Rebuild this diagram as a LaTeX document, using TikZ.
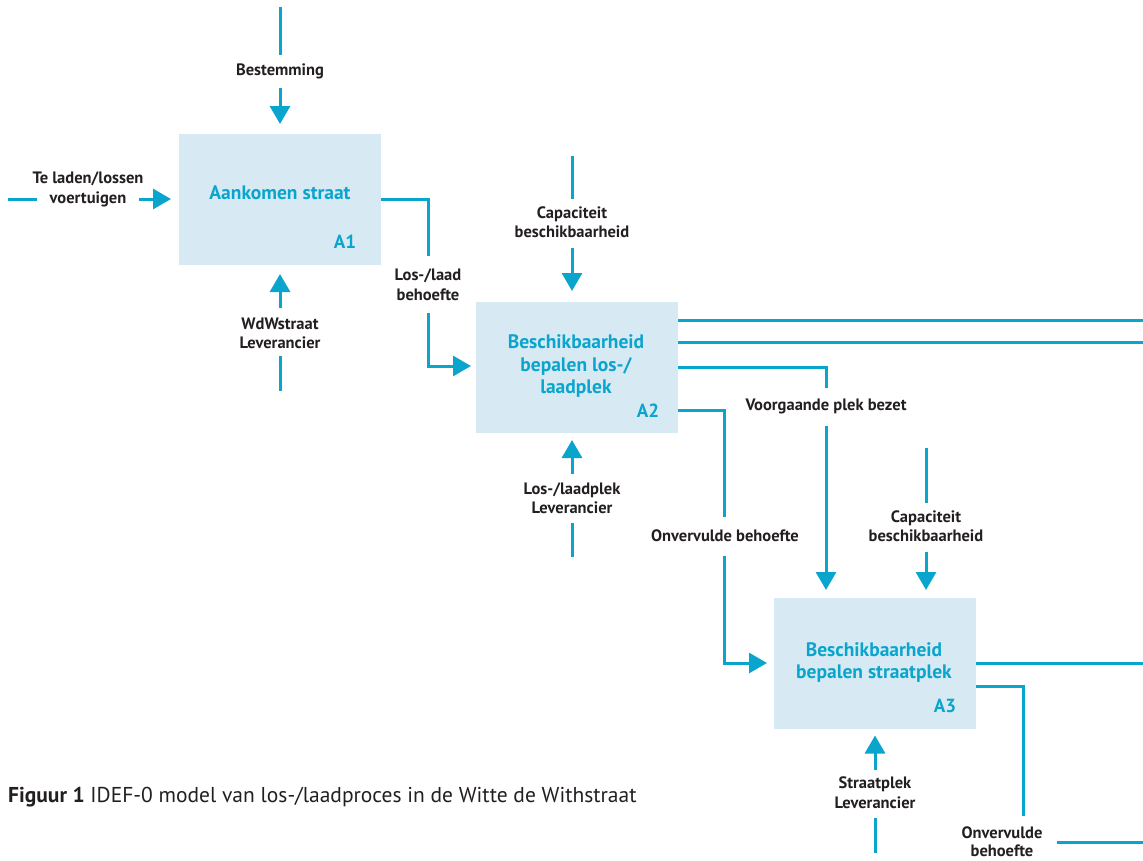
\documentclass[tikz,border=0pt]{standalone}
\usepackage{fontspec}
\setmainfont{PT Sans}
\usetikzlibrary{arrows.meta}
\definecolor{idef}{HTML}{0AA5CC}
\definecolor{boxfill}{HTML}{D7E9F3}
\definecolor{lbl}{HTML}{231F20}
\begin{document}
\begin{tikzpicture}[x=1pt,y=-1pt,
  conn/.style={draw=idef, line width=3pt},
  arr/.style={conn, -{Triangle[length=18pt,width=20pt]}},
  box/.style={fill=boxfill, draw=none, minimum width=202pt, minimum height=131pt, inner sep=0pt},
  title/.style={text=idef, font=\fontsize{19.5}{22.5}\selectfont\bfseries, align=center, inner sep=0pt},
  code/.style={text=idef, font=\fontsize{19}{22}\selectfont\bfseries, inner sep=0pt},
  lab/.style={text=lbl, font=\fontsize{16.5}{19.5}\selectfont\bfseries, align=center, inner sep=0pt}]
\useasboundingbox (0,0) rectangle (1143,860);

% boxes
\node[box] (A1) at (280,199.5) {};
\node[box] (A2) at (577,367.5) {};
\node[box] (A3) at (875,663.5) {};
\node[title] (t1) at (280,193) {Aankomen straat};
\node[title] (t2) at (576,366.5) {Beschikbaarheid\\bepalen los-/\\laadplek};
\node[title] (t3) at (874,662.5) {Beschikbaarheid\\bepalen straatplek};
\node[code] (c1) at (345,242) {A1};
\node[code] (c2) at (648,411) {A2};
\node[code] (c3) at (945,706) {A3};

% labels
\node[lab] (lBest) at (280,71) {Bestemming};
\node[lab] (lIn) at (88,189.5) {Te laden/lossen\\voertuigen};
\node[lab] (lOut1) at (428,284.5) {Los-/laad\\behoefte};
\node[lab] (lMech1) at (280,333.5) {WdWstraat\\Leverancier};
\node[lab] (lCtl2) at (572,222) {Capaciteit\\beschikbaarheid};
\node[lab] (lMech2) at (572,498) {Los-/laadplek\\Leverancier};
\node[lab] (lVoor) at (826,406) {Voorgaande plek bezet};
\node[lab] (lOnv) at (725,536) {Onvervulde behoefte};
\node[lab] (lCtl3) at (926,526) {Capaciteit\\beschikbaarheid};
\node[lab] (lMech3) at (875,792.5) {Straatplek\\Leverancier};
\node[lab, font=\fontsize{16.5}{18.5}\selectfont\bfseries] (lOnv2) at (1002,841.5) {Onvervulde\\behoefte};

\node[anchor=west, text=lbl, inner sep=0pt, font=\fontsize{21.5}{24}\selectfont] (cap) at (8,797)
  {\textbf{Figuur 1} IDEF-0 model van los-/laadproces in de Witte de Withstraat};

% coordinates
\coordinate (bA) at (280,7);   \coordinate (bB) at (280,55);
\coordinate (bC) at (280,88);  \coordinate (bD) at (280,124);
\coordinate (iA) at (8,199);   \coordinate (iB) at (37,199);
\coordinate (iC) at (139,199); \coordinate (iD) at (171,199);
\coordinate (o1A) at (381,199); \coordinate (o1B) at (428,256);
\coordinate (o1C) at (428,313); \coordinate (o1D) at (471,366);
\coordinate (m1A) at (280,308); \coordinate (m1B) at (280,274);
\coordinate (m1C) at (280,356); \coordinate (m1D) at (280,391);
\coordinate (c2A) at (572,156); \coordinate (c2B) at (572,199);
\coordinate (c2C) at (572,248); \coordinate (c2D) at (572,291);
\coordinate (m2A) at (572,474); \coordinate (m2B) at (572,440);
\coordinate (m2C) at (572,523); \coordinate (m2D) at (572,557);
\coordinate (p1A) at (678,320); \coordinate (p1B) at (1143,320);
\coordinate (p2A) at (678,342); \coordinate (p2B) at (1143,342);
\coordinate (p3A) at (678,367); \coordinate (p3B) at (826,388);
\coordinate (p3C) at (826,426); \coordinate (p3D) at (826,590);
\coordinate (p4A) at (678,410); \coordinate (p4B) at (724,517);
\coordinate (p4C) at (724,556); \coordinate (p4D) at (767,663);
\coordinate (c3A) at (926,448); \coordinate (c3B) at (926,503);
\coordinate (c3C) at (926,552); \coordinate (c3D) at (926,590);
\coordinate (m3A) at (875,770); \coordinate (m3B) at (875,735.5);
\coordinate (m3C) at (875,818); \coordinate (m3D) at (875,853);
\coordinate (q1A) at (976,663); \coordinate (q1B) at (1143,663);
\coordinate (q2A) at (976,686); \coordinate (q2B) at (1023,816);
\coordinate (q2C) at (1057,842); \coordinate (q2D) at (1143,842);

% connectors
\draw[conn] (bA) -- (bB);
\draw[arr] (bC) -- (bD);
\draw[conn] (iA) -- (iB);
\draw[arr] (iC) -- (iD);
\draw[conn] (o1A) -| (o1B);
\draw[arr] (o1C) |- (o1D);
\draw[arr] (m1A) -- (m1B);
\draw[conn] (m1C) -- (m1D);
\draw[conn] (c2A) -- (c2B);
\draw[arr] (c2C) -- (c2D);
\draw[arr] (m2A) -- (m2B);
\draw[conn] (m2C) -- (m2D);
\draw[conn] (p1A) -- (p1B);
\draw[conn] (p2A) -- (p2B);
\draw[conn] (p3A) -| (p3B);
\draw[arr] (p3C) -- (p3D);
\draw[conn] (p4A) -| (p4B);
\draw[arr] (p4C) |- (p4D);
\draw[conn] (c3A) -- (c3B);
\draw[arr] (c3C) -- (c3D);
\draw[arr] (m3A) -- (m3B);
\draw[conn] (m3C) -- (m3D);
\draw[conn] (q1A) -- (q1B);
\draw[conn] (q2A) -| (q2B);
\draw[conn] (q2C) -- (q2D);
\end{tikzpicture}
\end{document}
